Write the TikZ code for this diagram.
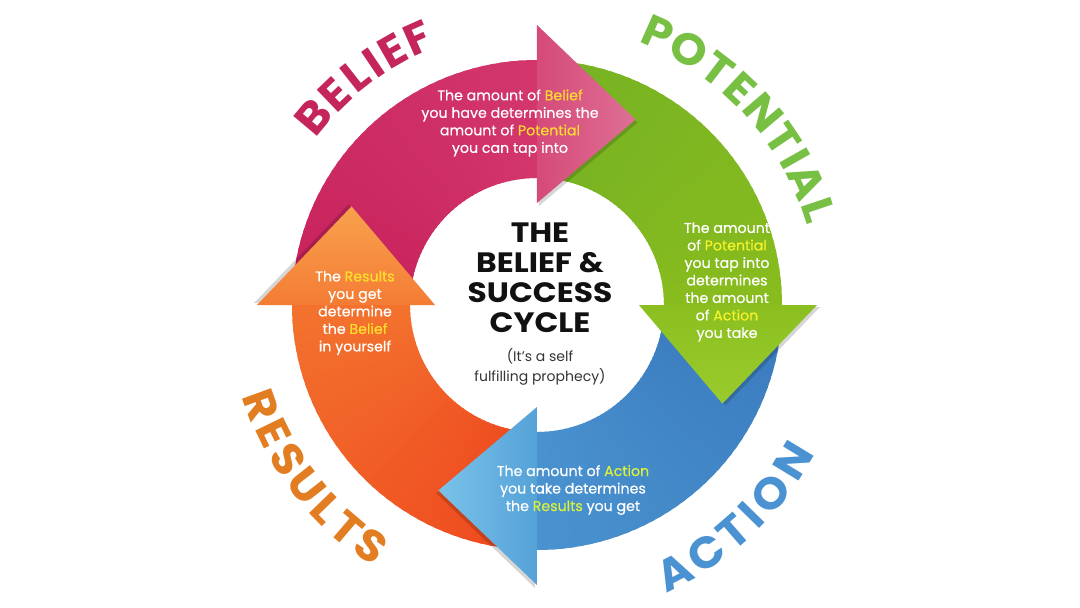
\documentclass[tikz,border=0pt]{standalone}
\usepackage{fontspec}
\setmainfont{Poppins}
\newfontfamily\labfam{Poppins}[FakeStretch=1.05]
\newfontfamily\titlefam{Poppins}[FakeStretch=1.12]
\newfontfamily\bodyfam{Poppins}[FakeBold=0.5]
\definecolor{pinkA}{HTML}{C8225C}
\definecolor{pinkB}{HTML}{D2366C}
\definecolor{pinkH}{HTML}{D54A79}
\definecolor{pinkT}{HTML}{DE7094}
\definecolor{greenA}{HTML}{76B224}
\definecolor{greenB}{HTML}{88BC1E}
\definecolor{greenH}{HTML}{8BBF20}
\definecolor{greenT}{HTML}{9ACB2C}
\definecolor{blueA}{HTML}{3A7BBE}
\definecolor{blueB}{HTML}{4A92CF}
\definecolor{blueH}{HTML}{55A2D8}
\definecolor{blueT}{HTML}{7AC2E9}
\definecolor{orangeA}{HTML}{EE481E}
\definecolor{orangeB}{HTML}{F3722E}
\definecolor{orangeH}{HTML}{F47C35}
\definecolor{orangeT}{HTML}{F8A24D}
\definecolor{hlY}{HTML}{FFDD2E}
\definecolor{hlG}{HTML}{F3F22C}
\definecolor{hlB}{HTML}{D9F03C}
\definecolor{labBelief}{HTML}{C4265C}
\definecolor{labPot}{HTML}{77C043}
\definecolor{labRes}{HTML}{E27D22}
\definecolor{labAct}{HTML}{4B92D2}
\definecolor{titleC}{HTML}{111111}
\newcommand\hlc[2]{\textcolor{#1}{#2}}
\newcommand\LabFont{\labfam\fontsize{44}{44}\selectfont\bfseries}
% letters on an arc: name, centre radius, rotation offset, colour, angle/letter list
\newcommand\ArcLetters[5]{%
  \foreach \an/\ch [count=\k] in {#5}{%
    \node[text=#4,inner sep=0pt,anchor=center,rotate=\an+#3] (#1-\k) at (\an:#2pt) {\LabFont\ch};
  }}
% annular body with angular gradient: start, end, colA, colB
\newcommand\RingBody[4]{%
  \foreach \k in {0,...,39}{%
    \pgfmathsetmacro\aa{#1+(#2-#1)*\k/40}%
    \pgfmathsetmacro\bb{#1+(#2-#1)*(\k+1.4)/40}%
    \pgfmathsetmacro\pp{100*\k/39}%
    \colorlet{segc}{#4!\pp!#3}%
    \fill[segc] (\aa:127pt) arc[start angle=\aa,end angle=\bb,radius=127pt]
      -- (\bb:245pt) arc[start angle=\bb,end angle=\aa,radius=245pt] -- cycle;
  }}
% head: base angle, base colour, tip colour, shadow dx, shadow dy
\newcommand\RingHead[5]{%
  \pgfmathsetmacro\sa{#1-180}%
  \pgfmathsetmacro\ta{#1-28}%
  \fill[black,opacity=0.16] ([shift={(#4pt,#5pt)}]#1:102pt) -- ([shift={(#4pt,#5pt)}]#1:280pt)
      -- ([shift={(#4pt,#5pt)}]\ta:210pt) -- cycle;
  \shade[top color=#3,bottom color=#2,shading angle=\sa]
      (#1:102pt) -- (#1:280pt) -- (\ta:210pt) -- cycle;
}
\tikzset{
  bodytxt/.style={text=white,align=center,inner sep=0pt,
     font=\bodyfam\fontsize{14.2}{17.5}\selectfont},
  titletxt/.style={text=titleC,align=center,inner sep=0pt,
     font=\titlefam\fontsize{28}{30}\selectfont\bfseries},
  subtxt/.style={text=titleC!85,align=center,inner sep=0pt,
     font=\fontsize{14}{20}\selectfont},
}
\begin{document}
\begin{tikzpicture}
\useasboundingbox (-537pt,-303pt) rectangle (543pt,305pt);
\fill[white] (-537pt,-303pt) rectangle (543pt,305pt);
% bodies
\RingBody{178}{90}{pinkA}{pinkB}
\RingBody{88}{0}{greenA}{greenB}
\RingBody{-2}{-90}{blueA}{blueB}
\RingBody{268}{180}{orangeA}{orangeB}
% heads
\RingHead{90}{pinkH}{pinkT}{2}{-3}
\RingHead{0}{greenH}{greenT}{3}{-2}
\RingHead{-90}{blueH}{blueT}{-2}{-3}
\RingHead{180}{orangeH}{orangeT}{-3}{2}
% big labels
\ArcLetters{belief}{292}{-90}{labBelief}{140/B,133.8/E,128.3/L,124.1/I,119.7/E,114/F}
\ArcLetters{potential}{297}{-90}{labPot}{66/P,59.2/O,52.6/T,46.8/E,40.4/N,34/T,29.6/I,24.6/A,18.6/L}
\ArcLetters{results}{293}{90}{labRes}{200/R,206/E,211.8/S,218.1/U,224.1/L,229.6/T,235.4/S}
\ArcLetters{action}{300}{90}{labAct}{-62.8/A,-55.7/C,-49.1/T,-44.4/I,-38.9/O,-31.3/N}
% texts
\node[bodytxt] (tbelief) at (-27pt,182pt) {The amount of \hlc{hlY}{Belief}\\you have determines the\\amount of \hlc{hlY}{Potential}\\you can tap into};
\node[bodytxt] (tpot) at (190pt,23pt) {The amount\\of \hlc{hlG}{Potential}\\you tap into\\determines\\the amount\\of \hlc{hlG}{Action}\\you take};
\node[bodytxt] (tact) at (36pt,-185pt) {The amount of \hlc{hlB}{Action}\\you take determines\\the \hlc{hlB}{Results} you get};
\node[bodytxt] (tres) at (-182pt,-8pt) {The \hlc{hlY}{Results}\\you get\\determine\\the \hlc{hlY}{Belief}\\in yourself};
\node[titletxt] (title) at (3pt,27pt) {THE\\BELIEF \&\\SUCCESS\\CYCLE};
\node[subtxt] (sub) at (3pt,-62pt) {(It’s a self\\fulfilling prophecy)};
\end{tikzpicture}
\end{document}
